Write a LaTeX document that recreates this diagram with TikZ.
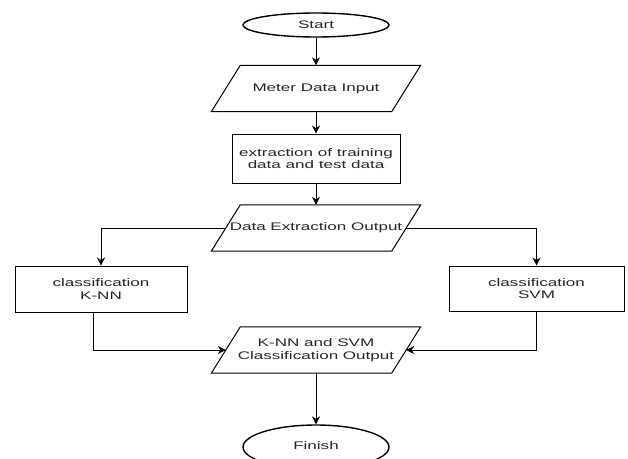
\documentclass[tikz,border=0pt]{standalone}
\usepackage{fontspec}
\setmainfont{Liberation Sans}[FakeStretch=1.55]
\usetikzlibrary{arrows.meta,shapes.geometric}
\begin{document}
\begin{tikzpicture}[x=1pt,y=-1pt,
  font=\fontsize{11}{12.5}\selectfont,
  txt/.style={text=black!85},
  box/.style={draw, line width=1pt, inner sep=0pt, align=center, txt},
  term/.style={ellipse, draw, line width=1.4pt, inner sep=0pt, txt},
  para/.style={inner sep=0pt, align=center, minimum width=180pt, minimum height=46pt, txt},
  arr/.style={-{Stealth[length=8pt,width=8pt]}, line width=1pt}]
\useasboundingbox (0,0) rectangle (628,458);
\node[term, minimum width=146pt, minimum height=24pt] (start) at (316,25) {Start};
\node[para] (meter) at (316,88.5) {Meter Data Input};
\node[box, minimum width=168pt, minimum height=49pt] (extr) at (316,158.5) {extraction of training\\data and test data};
\node[para] (deo) at (316,228) {\makebox[0pt]{Data Extraction Output}};
\node[box, minimum width=172pt, minimum height=46pt] (knn) at (101,289) {classification\\K-NN};
\node[box, minimum width=175pt, minimum height=45pt] (svm) at (536.5,288.5) {classification\\SVM};
\node[para] (out) at (316,350) {K-NN and SVM\\Classification Output};
\node[term, minimum width=146pt, minimum height=44pt] (finish) at (316,447) {\raisebox{3pt}{Finish}};
\foreach \n in {meter,deo,out}
  \draw[line width=1pt] ([xshift=14.5pt]\n.north west) -- ([xshift=14.5pt]\n.north east)
    -- ([xshift=-14.5pt]\n.south east) -- ([xshift=-14.5pt]\n.south west) -- cycle;
\draw[arr] (start.south) -- (meter.north);
\draw[arr] (meter.south) -- (extr.north);
\draw[arr] (extr.south) -- (deo.north);
\draw[arr] (deo.west) -| (knn.north);
\draw[arr] (deo.east) -| (svm.north);
\draw[arr] ([xshift=-8pt]knn.south) |- (out.west);
\draw[arr] (svm.south) |- (out.east);
\draw[arr] (out.south) -- (finish.north);
\end{tikzpicture}
\end{document}
